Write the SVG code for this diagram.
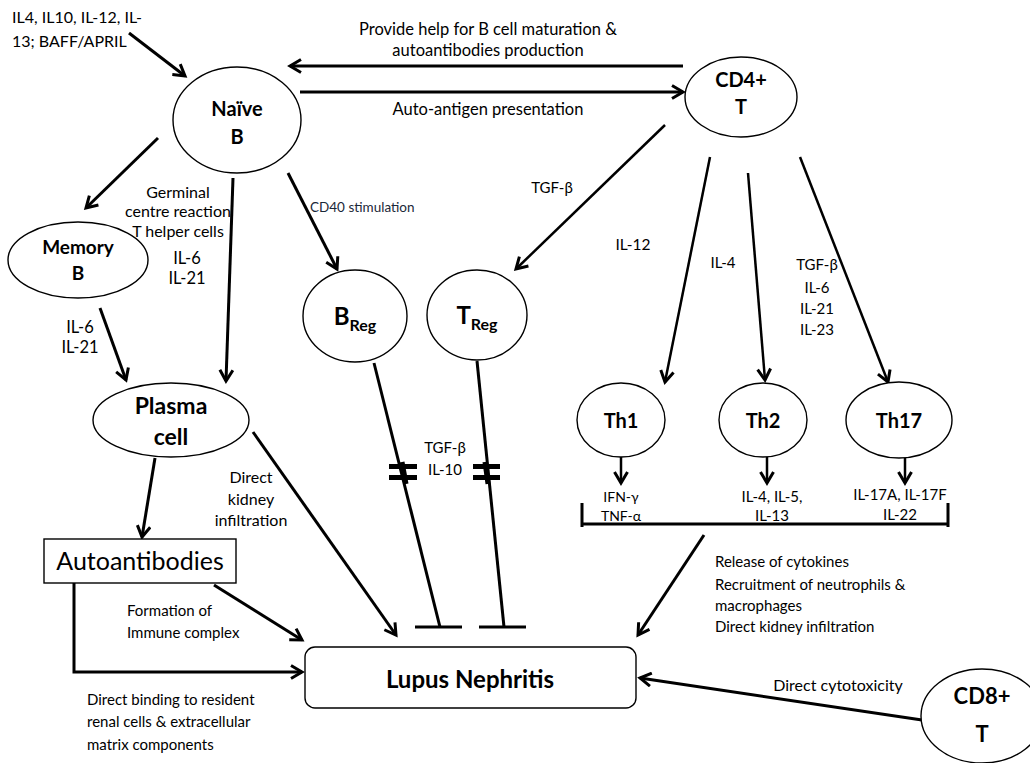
<svg xmlns="http://www.w3.org/2000/svg" width="1030" height="763" viewBox="0 0 1030 763">
<style>
  .node { fill: #fff; stroke: #000; stroke-width: 1.4; }
  .t { font-family: Lato, "Open Sans", "Liberation Sans", sans-serif; fill: #000; }
  .lbl { text-anchor: middle; }
  .bold { font-weight: bold; text-anchor: middle; }
  .c { fill: none; stroke: #000; stroke-width: 3; }
  .ca { fill: none; stroke: #000; stroke-width: 3; marker-end: url(#ah); }
  .cb { fill: none; stroke: #000; stroke-width: 2.5; marker-end: url(#ah); }
</style>
<defs>
  <marker id="ah" markerWidth="16" markerHeight="16" refX="13" refY="8" orient="auto" markerUnits="userSpaceOnUse">
    <path d="M2,1.5 L13,8 L2,14.5" fill="none" stroke="#000" stroke-width="3"/>
  </marker>
</defs>
<rect width="1030" height="763" fill="#fff"/>

<g id="connectors">
  <line class="ca" x1="129" y1="33" x2="185" y2="76"/>
  <line class="ca" x1="683" y1="66" x2="290" y2="66"/>
  <line class="ca" x1="300" y1="92" x2="683" y2="92"/>
  <line class="ca" x1="158" y1="138" x2="86" y2="208"/>
  <line class="ca" x1="233" y1="178" x2="226" y2="381"/>
  <line class="ca" x1="288" y1="173" x2="337" y2="269"/>
  <line class="ca" x1="100" y1="308" x2="126" y2="380"/>
  <line class="cb" x1="665" y1="125" x2="516" y2="269"/>
  <line class="cb" x1="710" y1="157" x2="665" y2="382"/>
  <line class="cb" x1="748" y1="173" x2="765" y2="380"/>
  <line class="cb" x1="800" y1="157" x2="888" y2="382"/>
  <line class="cb" x1="621" y1="457" x2="621" y2="483"/>
  <line class="cb" x1="767" y1="457" x2="767" y2="483"/>
  <line class="cb" x1="905" y1="458" x2="905" y2="483"/>
  <path class="c" d="M582,503 V527 M582,524 H948 M948,503 V527"/>
  <line class="ca" x1="704" y1="535" x2="638" y2="635"/>
  <line class="ca" x1="155" y1="458" x2="142" y2="537"/>
  <line class="ca" x1="253" y1="432" x2="396" y2="635"/>
  <line class="ca" x1="214" y1="585" x2="302" y2="640"/>
  <path class="ca" d="M74,583 V672 H302"/>
  <line class="ca" x1="922" y1="720" x2="640" y2="678"/>
  <!-- inhibitory connectors -->
  <line class="c" x1="374" y1="363" x2="440" y2="627"/>
  <line class="c" x1="415" y1="627" x2="462" y2="627"/>
  <line class="c" x1="477" y1="361" x2="504" y2="627"/>
  <line class="c" x1="479" y1="627" x2="526" y2="627"/>
  <!-- break marks -->
  <g fill="#000">
    <rect x="389" y="464" width="28" height="5"/>
    <rect x="389" y="475" width="28" height="5"/>
    <line x1="402" y1="462" x2="406" y2="484" stroke="#000" stroke-width="5"/>
    <rect x="473" y="464" width="27" height="5"/>
    <rect x="473" y="475" width="27" height="5"/>
    <line x1="485" y1="462" x2="488" y2="484" stroke="#000" stroke-width="5"/>
  </g>
</g>

<g id="naive-b">
  <ellipse class="node" cx="237" cy="120" rx="64" ry="53"/>
  <text class="t bold" x="237" y="116" font-size="20">Naïve</text>
  <text class="t bold" x="237" y="144" font-size="20">B</text>
</g>
<g id="cd4-t">
  <ellipse class="node" cx="741" cy="97" rx="56" ry="40"/>
  <text class="t bold" x="741" y="87" font-size="20">CD4+</text>
  <text class="t bold" x="741" y="114" font-size="20">T</text>
</g>
<g id="memory-b">
  <ellipse class="node" cx="78" cy="260" rx="70" ry="38"/>
  <text class="t bold" x="78" y="254" font-size="19">Memory</text>
  <text class="t bold" x="78" y="280" font-size="19">B</text>
</g>
<g id="breg">
  <ellipse class="node" cx="355" cy="316" rx="52" ry="46"/>
  <text class="t bold" x="355" y="325" font-size="24">B<tspan font-size="16" dy="6">Reg</tspan></text>
</g>
<g id="treg">
  <ellipse class="node" cx="477" cy="315" rx="50" ry="45"/>
  <text class="t bold" x="477" y="324" font-size="24">T<tspan font-size="16" dy="6">Reg</tspan></text>
</g>
<g id="plasma-cell">
  <ellipse class="node" cx="171" cy="420" rx="78" ry="37"/>
  <text class="t bold" x="171" y="414" font-size="23">Plasma</text>
  <text class="t bold" x="171" y="445" font-size="23">cell</text>
</g>
<g id="th1">
  <ellipse class="node" cx="621" cy="420" rx="44" ry="37"/>
  <text class="t bold" x="621" y="428" font-size="20">Th1</text>
</g>
<g id="th2">
  <ellipse class="node" cx="763" cy="420" rx="44" ry="37"/>
  <text class="t bold" x="763" y="428" font-size="20">Th2</text>
</g>
<g id="th17">
  <ellipse class="node" cx="899" cy="420" rx="53" ry="38"/>
  <text class="t bold" x="899" y="428" font-size="20">Th17</text>
</g>
<g id="autoantibodies">
  <rect x="44" y="539" width="192" height="44" fill="#fff" stroke="#000" stroke-width="1.4"/>
  <text class="t" x="140" y="570" font-size="25" text-anchor="middle">Autoantibodies</text>
</g>
<g id="lupus-nephritis">
  <rect x="305" y="647" width="331" height="61" rx="10" fill="#fff" stroke="#000" stroke-width="1.4"/>
  <text class="t bold" x="470" y="688" font-size="24">Lupus Nephritis</text>
</g>
<g id="cd8-t">
  <ellipse class="node" cx="982" cy="716" rx="61" ry="47"/>
  <text class="t bold" x="982" y="704" font-size="22">CD8+</text>
  <text class="t bold" x="982" y="742" font-size="22">T</text>
</g>

<g id="labels" font-size="15">
  <text class="t" x="12" y="23" font-size="16">IL4, IL10, IL-12, IL-</text>
  <text class="t" x="12" y="47" font-size="16">13; BAFF/APRIL</text>
  <text class="t lbl" x="488" y="35" font-size="16.5">Provide help for B cell maturation &amp;</text>
  <text class="t lbl" x="488" y="56" font-size="16.5">autoantibodies production</text>
  <text class="t lbl" x="488" y="115" font-size="16.5">Auto-antigen presentation</text>
  <text class="t lbl" x="178" y="198" font-size="16">Germinal</text>
  <text class="t lbl" x="178" y="217" font-size="16">centre reaction</text>
  <text class="t lbl" x="178" y="237" font-size="16">T helper cells</text>
  <text class="t lbl" x="187" y="264" font-size="16.5">IL-6</text>
  <text class="t lbl" x="187" y="284" font-size="16.5">IL-21</text>
  <text class="t lbl" x="80" y="333" font-size="16.5">IL-6</text>
  <text class="t lbl" x="80" y="353" font-size="16.5">IL-21</text>
  <text class="t" x="310" y="212" font-size="13.5" style="fill:#1a2838">CD40 stimulation</text>
  <text class="t lbl" x="552" y="193">TGF-β</text>
  <text class="t lbl" x="633" y="250" font-size="15.5">IL-12</text>
  <text class="t lbl" x="723" y="268">IL-4</text>
  <text class="t lbl" x="817" y="270">TGF-β</text>
  <text class="t lbl" x="817" y="293">IL-6</text>
  <text class="t lbl" x="817" y="314">IL-21</text>
  <text class="t lbl" x="817" y="335">IL-23</text>
  <text class="t lbl" x="445" y="453">TGF-β</text>
  <text class="t lbl" x="445" y="475">IL-10</text>
  <text class="t lbl" x="621" y="502" font-size="14">IFN-γ</text>
  <text class="t lbl" x="621" y="521" font-size="14">TNF-α</text>
  <text class="t lbl" x="772" y="502">IL-4, IL-5,</text>
  <text class="t lbl" x="772" y="521">IL-13</text>
  <text class="t lbl" x="900" y="500">IL-17A, IL-17F</text>
  <text class="t lbl" x="900" y="520">IL-22</text>
  <text class="t lbl" x="251" y="483" font-size="16">Direct</text>
  <text class="t lbl" x="251" y="505" font-size="16">kidney</text>
  <text class="t lbl" x="251" y="526" font-size="16">infiltration</text>
  <text class="t" x="127" y="616">Formation of</text>
  <text class="t" x="127" y="638">Immune complex</text>
  <text class="t" x="87" y="705">Direct binding to resident</text>
  <text class="t" x="87" y="727">renal cells &amp; extracellular</text>
  <text class="t" x="87" y="750">matrix components</text>
  <text class="t" x="715" y="567">Release of cytokines</text>
  <text class="t" x="715" y="590">Recruitment of neutrophils &amp;</text>
  <text class="t" x="715" y="611">macrophages</text>
  <text class="t" x="715" y="632">Direct kidney infiltration</text>
  <text class="t lbl" x="838" y="691" font-size="16">Direct cytotoxicity</text>
</g>
</svg>
